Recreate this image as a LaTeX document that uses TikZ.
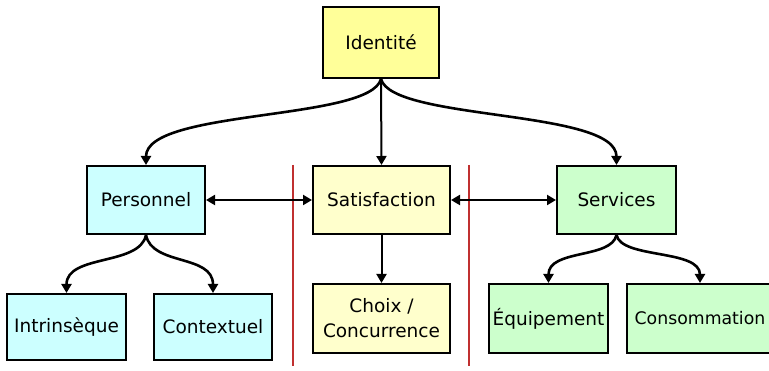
\documentclass[tikz,border=0pt]{standalone}
\usepackage{fontspec}
\setmainfont{DejaVu Sans}
\usetikzlibrary{arrows.meta}
\definecolor{idfill}{HTML}{FFFF99}
\definecolor{satfill}{HTML}{FFFFCC}
\definecolor{persfill}{HTML}{CCFFFF}
\definecolor{servfill}{HTML}{CCFFCC}
\definecolor{sepred}{HTML}{C03030}
\tikzset{
  box/.style={draw=black, line width=2pt, inner sep=0pt, align=center,
    font=\fontsize{18.5}{25}\selectfont},
  tip/.style={-{Triangle[length=9pt,width=10pt]}},
  curvelink/.style={tip, line width=2.6pt},
  straightlink/.style={tip, line width=2pt},
  bothlink/.style={{Triangle[length=9pt,width=10pt]}-{Triangle[length=9pt,width=10pt]}, line width=2pt},
  separator/.style={draw=sepred, line width=1.5pt}
}
\begin{document}
\begin{tikzpicture}[x=1pt,y=-1pt]
\useasboundingbox (0,0) rectangle (769,371);
\clip (0,0) rectangle (769,371);
\fill[white] (0,0) rectangle (769,371);

% column separators
\draw[separator] (293,165) -- (293,366);
\draw[separator] (469,165) -- (469,366);

% boxes
\node[box, fill=idfill, minimum width=116pt, minimum height=71pt] (id) at (381,42.5) {Identité};
\node[box, fill=persfill, minimum width=118pt, minimum height=68pt] (pers) at (146,200) {Personnel};
\node[box, fill=satfill, minimum width=137pt, minimum height=68pt] (sat) at (381.5,200) {Satisfaction};
\node[box, fill=servfill, minimum width=119pt, minimum height=68pt] (serv) at (616.5,200) {Services};
\node[box, fill=persfill, minimum width=119pt, minimum height=66pt] (intr) at (66.5,327) {Intrinsèque};
\node[box, fill=persfill, minimum width=118pt, minimum height=66pt] (cont) at (213,327) {Contextuel};
\node[box, fill=satfill, minimum width=137pt, minimum height=69pt] (choix) at (381.5,318.5) {Choix /\\Concurrence};
\node[box, fill=servfill, minimum width=119pt, minimum height=69pt] (equip) at (548.5,318.5) {Équipement};
\node[box, fill=servfill, minimum width=146pt, minimum height=69pt,
      font=\fontsize{17.3}{22}\selectfont] (cons) at (700,318.5) {Consommation};

% links from the top
\draw[curvelink] (id.south) .. controls +(-11,42) and +(0,-56) .. (pers.north);
\draw[curvelink] (id.south) .. controls +(11,42) and +(0,-56) .. (serv.north);
\draw[straightlink] (id.south) -- (sat.north);

% middle row
\draw[bothlink] (pers.east) -- (sat.west);
\draw[bothlink] (sat.east) -- (serv.west);
\draw[straightlink] (sat.south) -- (choix.north);

% lower links
\draw[curvelink] (pers.south) .. controls +(-6,31) and +(0,-39) .. (intr.north);
\draw[curvelink] (pers.south) .. controls +(6,31) and +(0,-39) .. (cont.north);
\draw[curvelink] (serv.south) .. controls +(-5,24) and +(0,-34) .. (equip.north);
\draw[curvelink] (serv.south) .. controls +(5,24) and +(0,-34) .. (cons.north);
\end{tikzpicture}
\end{document}
